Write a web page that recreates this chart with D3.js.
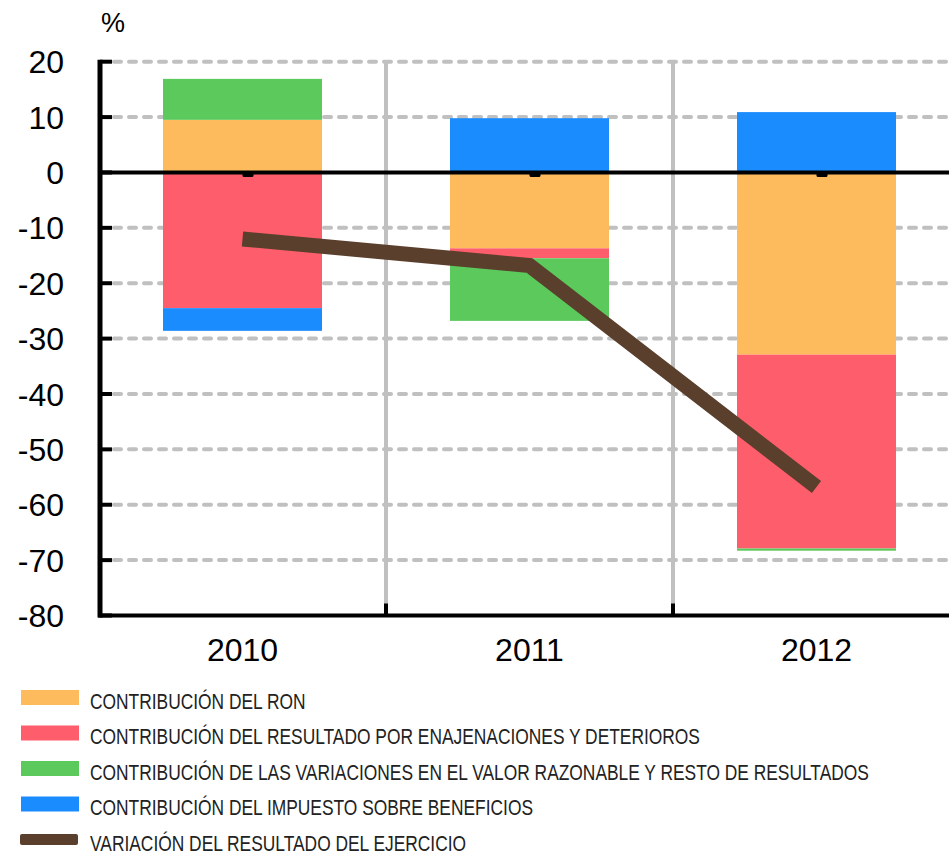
<!DOCTYPE html>
<html>
<head>
<meta charset="utf-8">
<script src="https://cdn.jsdelivr.net/npm/d3@7"></script>
<style>
  body { margin: 0; background: #fff; }
  svg { display: block; }
  .tick-label { font-family: "Liberation Sans", Arial, sans-serif; font-size: 32px; fill: #000; }
  .legend-label { font-family: "Liberation Sans", Arial, sans-serif; font-size: 22px; fill: #222; }
</style>
</head>
<body>
<script>
// data
var years = ["2010", "2011", "2012"];
var ron = [9.5, -13.7, -32.9];
var enajenaciones = [-24.5, -1.8, -35.0];
var variaciones = [7.4, -11.3, -0.4];
var impuesto = [-4.1, 9.8, 10.9];
var resultado = [-12.0, -16.8, -56.8];
var yTicks = [20, 10, 0, -10, -20, -30, -40, -50, -60, -70, -80];

var seriesKeys = ["ron", "enaj", "vari", "imp"];
var seriesColors = { ron: "#fdbb5e", enaj: "#fe5e6b", vari: "#5cc95c", imp: "#1b8cfe" };
var legendLabels = [
    "CONTRIBUCIÓN DEL RON",
    "CONTRIBUCIÓN DEL RESULTADO POR ENAJENACIONES Y DETERIOROS",
    "CONTRIBUCIÓN DE LAS VARIACIONES EN EL VALOR RAZONABLE Y RESTO DE RESULTADOS",
    "CONTRIBUCIÓN DEL IMPUESTO SOBRE BENEFICIOS",
    "VARIACIÓN DEL RESULTADO DEL EJERCICIO"
];
var lineColor = "#5a3f2c";

var rows = years.map(function(y, i) {
    return { year: y, ron: ron[i], enaj: enajenaciones[i], vari: variaciones[i], imp: impuesto[i] };
});

var width = 949, height = 853;
var svg = d3.select("body").append("svg")
    .attr("width", width)
    .attr("height", height);

var x = d3.scaleBand()
    .domain(years)
    .range([99, 960])
    .paddingInner(0.446)
    .paddingOuter(0.223);

var y = d3.scaleLinear()
    .domain([-80, 20])
    .range([615.5, 61.7]);

var left = 100;

// horizontal dashed grid
svg.append("g").selectAll("line")
    .data(yTicks.filter(function(t) { return t != -80 && t != 0; }))
    .enter().append("line")
    .attr("x1", left + 14).attr("x2", width + 10)
    .attr("y1", function(d) { return y(d); })
    .attr("y2", function(d) { return y(d); })
    .attr("stroke", "#c0c0c0")
    .attr("stroke-width", 4)
    .attr("stroke-linecap", "round")
    .attr("stroke-dasharray", "7,8");

// vertical grid between categories
var bounds = years.slice(1).map(function(d) { return x(d) - x.step() * x.paddingInner() / 2; });
svg.append("g").selectAll("line")
    .data(bounds)
    .enter().append("line")
    .attr("x1", function(d) { return d; }).attr("x2", function(d) { return d; })
    .attr("y1", y(20)).attr("y2", y(-80))
    .attr("stroke", "#c0c0c0")
    .attr("stroke-width", 4);

// stacked bars
var stack = d3.stack().keys(seriesKeys).offset(d3.stackOffsetDiverging);
var stacked = stack(rows);

svg.append("g").selectAll("g")
    .data(stacked)
    .enter().append("g")
    .attr("fill", function(d) { return seriesColors[d.key]; })
    .selectAll("rect")
    .data(function(d) { return d; })
    .enter().append("rect")
    .attr("x", function(d) { return x(d.data.year); })
    .attr("width", x.bandwidth())
    .attr("y", function(d) { return y(Math.max(d[0], d[1])); })
    .attr("height", function(d) { return Math.abs(y(d[0]) - y(d[1])); });

// zero line
svg.append("line")
    .attr("x1", left).attr("x2", width)
    .attr("y1", y(0)).attr("y2", y(0))
    .attr("stroke", "#000")
    .attr("stroke-width", 4);

// little marks under the zero line
svg.append("g").selectAll("rect")
    .data(years)
    .enter().append("rect")
    .attr("x", function(d) { return x(d) + x.bandwidth() / 2; })
    .attr("y", y(0))
    .attr("width", 11)
    .attr("height", 4.5)
    .attr("rx", 1.5)
    .attr("fill", "#000");

// line series
var line = d3.line()
    .x(function(d, i) { return x(years[i]) + x.bandwidth() / 2; })
    .y(function(d) { return y(d); });

svg.append("path")
    .datum(resultado)
    .attr("d", line)
    .attr("fill", "none")
    .attr("stroke", lineColor)
    .attr("stroke-width", 15)
    .attr("stroke-linejoin", "miter");

// y axis
svg.append("line")
    .attr("x1", left).attr("x2", left)
    .attr("y1", y(20) - 2).attr("y2", y(-80) + 2)
    .attr("stroke", "#000")
    .attr("stroke-width", 5);

svg.append("g").selectAll("line")
    .data(yTicks)
    .enter().append("line")
    .attr("x1", left).attr("x2", left + 12)
    .attr("y1", function(d) { return y(d); })
    .attr("y2", function(d) { return y(d); })
    .attr("stroke", "#000")
    .attr("stroke-width", 4);

svg.append("g").selectAll("text")
    .data(yTicks)
    .enter().append("text")
    .attr("class", "tick-label")
    .attr("x", 64)
    .attr("y", function(d) { return y(d); })
    .attr("dy", "0.36em")
    .attr("text-anchor", "end")
    .text(function(d) { return d; });

svg.append("text")
    .attr("class", "tick-label")
    .attr("x", 101)
    .attr("y", 32)
    .style("font-size", "27px")
    .text("%");

// x axis
svg.append("line")
    .attr("x1", left - 2).attr("x2", width)
    .attr("y1", y(-80)).attr("y2", y(-80))
    .attr("stroke", "#000")
    .attr("stroke-width", 4);

svg.append("g").selectAll("line")
    .data(bounds)
    .enter().append("line")
    .attr("x1", function(d) { return d; }).attr("x2", function(d) { return d; })
    .attr("y1", y(-80) - 12).attr("y2", y(-80))
    .attr("stroke", "#000")
    .attr("stroke-width", 4);

svg.append("g").selectAll("text")
    .data(years)
    .enter().append("text")
    .attr("class", "tick-label")
    .attr("x", function(d) { return x(d) + x.bandwidth() / 2; })
    .attr("y", 660.5)
    .attr("text-anchor", "middle")
    .text(function(d) { return d; });

// legend (condensed text via horizontal scale)
var legend = svg.append("g");
var legendItems = legend.selectAll("g")
    .data(legendLabels)
    .enter().append("g")
    .attr("transform", function(d, i) { return "translate(0," + (697.5 + i * 35.5) + ")"; });

legendItems.each(function(d, i) {
    var g = d3.select(this);
    if (i < 4) {
        g.append("rect")
            .attr("x", 21).attr("y", -7.5)
            .attr("width", 58).attr("height", 15)
            .attr("fill", seriesColors[seriesKeys[i]]);
    } else {
        g.append("rect")
            .attr("x", 20).attr("y", -5.5)
            .attr("width", 58).attr("height", 11)
            .attr("rx", 2)
            .attr("fill", lineColor);
    }
    g.append("text")
        .attr("class", "legend-label")
        .attr("transform", "translate(90,11) scale(0.79,1)")
        .text(d);
});
</script>
</body>
</html>
